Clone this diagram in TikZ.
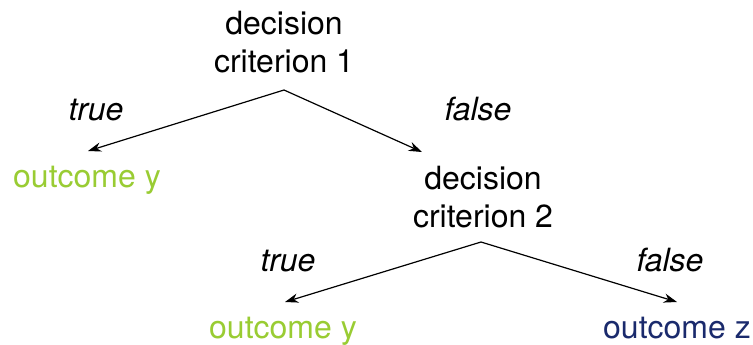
\documentclass[tikz,border=0pt]{standalone}
\usepackage{fontspec}
\setmainfont{TeX Gyre Heros}
\usetikzlibrary{arrows.meta}
\definecolor{outgreen}{HTML}{99CC33}
\definecolor{outnavy}{HTML}{1A2A6C}
\begin{document}
\begin{tikzpicture}[x=0.75pt,y=-0.75pt,
  txt/.style={inner sep=0pt,anchor=base,font=\fontsize{24}{28.5}\selectfont},
  lbl/.style={txt,font=\fontsize{24}{28.5}\selectfont\itshape},
  conn/.style={draw=black,line width=0.9pt,-{Stealth[length=10pt,width=7pt]}}]
\useasboundingbox (0,0) rectangle (753,344);
% decision 1
\node[txt] (d1a) at (284,34) {decision};
\node[txt] (d1b) at (284,72) {criterion 1};
% decision 2
\node[txt] (d2a) at (483,189) {decision};
\node[txt] (d2b) at (483,227) {criterion 2};
% outcomes
\node[txt,text=outgreen] (o1) at (87,187) {outcome y};
\node[txt,text=outgreen] (o2) at (283,338) {outcome y};
\node[txt,text=outnavy] (o3) at (677,338) {outcome z};
% labels
\node[lbl] (t1) at (96,120) {true};
\node[lbl] (f1) at (478,120) {false};
\node[lbl] (t2) at (288,271) {true};
\node[lbl] (f2) at (670,271) {false};
% connector points
\coordinate (s1) at (284,90);
\coordinate (e1) at (88,151);
\coordinate (e2) at (422,152);
\coordinate (s2) at (481,242);
\coordinate (e3) at (285,302);
\coordinate (e4) at (677,302);
\draw[conn] (s1) -- (e1);
\draw[conn] (s1) -- (e2);
\draw[conn] (s2) -- (e3);
\draw[conn] (s2) -- (e4);
\end{tikzpicture}
\end{document}
